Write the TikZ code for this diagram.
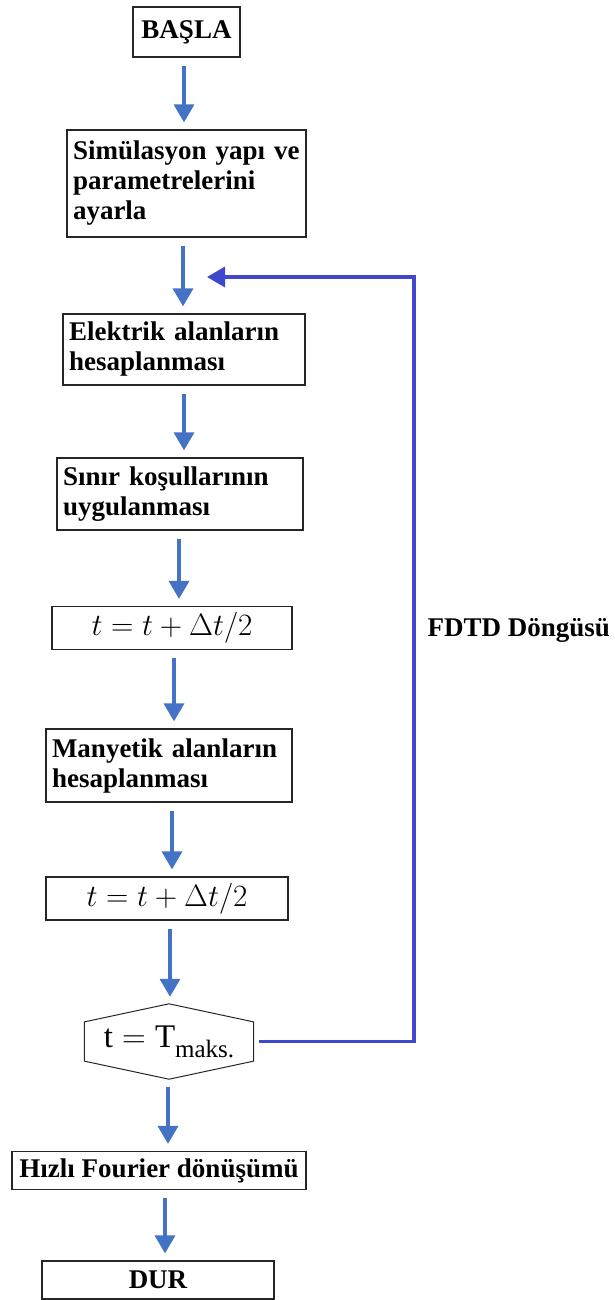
\RequirePackage{fix-cm}
\documentclass[tikz,border=0pt]{standalone}
\usepackage{fontspec}
\setmainfont{Liberation Serif}
\usepackage{xcolor}
\usepackage{tikz}
\usetikzlibrary{arrows.meta}
\usetikzlibrary{positioning, calc}
\definecolor{flowblue}{RGB}{68,114,196}
\definecolor{loopblue}{RGB}{63,72,204}
\tikzset{
    box/.style = {draw=black!85, line width=1.2pt, inner xsep=6pt, inner ysep=0pt,
        font=\bfseries\fontsize{27}{30}\selectfont},
    procbox/.style = {box, align=left, text width=#1},
    termbox/.style = {box, align=center, minimum width=#1},
    mathbox/.style = {box, minimum width=#1, font=\fontsize{31}{33}\selectfont},
    decision/.style = {inner sep=0pt, minimum width=169pt, minimum height=75pt,
        font=\fontsize{33}{35}\selectfont},
    hexline/.style = {draw=black!85, line width=1pt},
    flow/.style = {->, draw=flowblue, line width=3.5pt, shorten <=8pt, shorten >=7pt},
    loopflow/.style = {->, draw=loopblue, line width=3.5pt, shorten <=5pt},
}

\begin{document}
\begin{tikzpicture}[x=1pt, y=-1pt, >={Triangle[width=20pt,length=18pt]}]
            \useasboundingbox (0,0) rectangle (614,1300);
            \node (start) [termbox=107pt, minimum height=50pt] at (186.5,32) {BAŞLA};
            \node (setup) [procbox=227pt, minimum height=107pt] at (186.5,183.5)
                {Simülasyon yapı ve\\parametrelerini\\ayarla};
            \node (efield) [procbox=230pt, minimum height=71pt] at (184,349.5)
                {Elektrik alanların\\hesaplanması};
            \node (bound) [procbox=234pt, minimum height=72pt] at (180,494)
                {Sınır koşullarının\\uygulanması};
            \node (half1) [mathbox=240pt, minimum height=43pt] at (172,628) {$t = t + \Delta t/2$};
            \node (hfield) [procbox=234pt, minimum height=73pt] at (169,765.5)
                {Manyetik alanların\\hesaplanması};
            \node (half2) [mathbox=242pt, minimum height=43pt] at (167,898.5) {$t = t + \Delta t/2$};
            \node (check) [decision] at (169,1041.5)
                {$\mathrm{t} = \mathrm{T}$\raisebox{-0.3em}{\fontsize{25}{25}\selectfont maks.}};
            \draw[hexline] (check.north)
                -- ($(check.north west)!0.24!(check.south west)$)
                -- ($(check.north west)!0.76!(check.south west)$)
                -- (check.south)
                -- ($(check.north east)!0.76!(check.south east)$)
                -- ($(check.north east)!0.24!(check.south east)$)
                -- cycle;
            \node (fft) [termbox=294pt, minimum height=38pt] at (159,1170.5) {Hızlı Fourier dönüşümü};
            \node (stop) [termbox=232pt, minimum height=38pt] at (158,1280) {DUR};
            % down arrows, x of each shaft
            \foreach \a/\b/\x in {start/setup/184, setup/efield/183, efield/bound/184,
                bound/half1/179, half1/hfield/174, hfield/half2/172, half2/check/170,
                check/fft/168, fft/stop/165}
                \draw[flow] (\x,0 |- \a.south) -- (\x,0 |- \b.north);
            % loop back
            \coordinate (loopin) at (207,277);
            \draw[loopflow] (check.east) -| ([xshift=207pt]loopin) -- (loopin);
            \node (looplabel) [anchor=west, font=\bfseries\fontsize{27}{30}\selectfont] at (424,630)
                {FDTD Döngüsü};
\end{tikzpicture}
\end{document}
